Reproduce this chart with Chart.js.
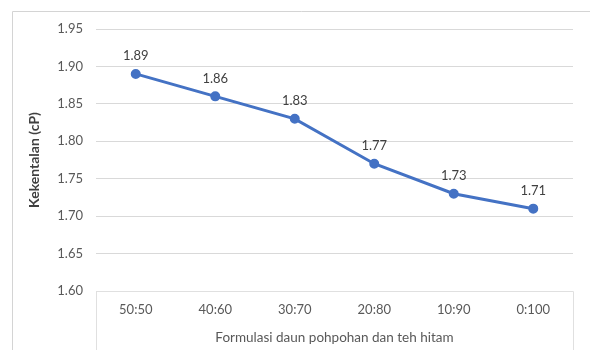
<!DOCTYPE html>
<html>
<head>
<meta charset="utf-8">
<script src="https://cdn.jsdelivr.net/npm/chart.js@4.4.1/dist/chart.umd.min.js"></script>
<style>
  html, body { margin: 0; padding: 0; background: #ffffff; }
  #wrap { width: 590px; height: 350px; position: relative; }
</style>
</head>
<body>
<div id="wrap"><canvas id="c" width="590" height="350"></canvas></div>
<script>
// Viscosity of pohpohan leaf / black tea blends
const categories = ['50:50', '40:60', '30:70', '20:80', '10:90', '0:100'];
const viscosity = [1.89, 1.86, 1.83, 1.77, 1.73, 1.71];
const yMin = 1.60;
const yMax = 1.95;
const yStep = 0.05;
const xTitle = 'Formulasi daun pohpohan dan teh hitam';
const yTitle = 'Kekentalan (cP)';

const textColor = '#595959';
const gridColor = '#d9d9d9';
const lineColor = '#4472c4';
const fontFamily = "Lato, 'Open Sans', 'Liberation Sans', sans-serif";
const fontSize = 13;

// Outer frame of the chart and the outlined category-axis band
const chartFrame = {
  id: 'chartFrame',
  afterDraw(chart) {
    const ctx = chart.ctx;
    const a = chart.chartArea;
    const l = Math.round(a.left) + 0.5;
    const r = Math.round(a.right) + 0.5;
    const b = Math.round(a.bottom) + 0.5;
    ctx.save();
    ctx.lineWidth = 1;
    ctx.strokeStyle = '#d4d4d4';
    ctx.beginPath();
    ctx.moveTo(12.5, chart.height);
    ctx.lineTo(12.5, 11.5);
    ctx.lineTo(chart.width, 11.5);
    ctx.stroke();
    ctx.strokeStyle = '#e0e0e0';
    ctx.beginPath();
    ctx.moveTo(l, chart.height);
    ctx.lineTo(l, b);
    ctx.lineTo(r, b);
    ctx.lineTo(r, chart.height);
    ctx.stroke();
    ctx.restore();
  }
};

// Value labels above each point
const valueLabels = {
  id: 'valueLabels',
  afterDatasetsDraw(chart) {
    const ctx = chart.ctx;
    const meta = chart.getDatasetMeta(0);
    ctx.save();
    ctx.font = fontSize + 'px ' + fontFamily;
    ctx.fillStyle = '#404040';
    ctx.textAlign = 'center';
    ctx.textBaseline = 'middle';
    meta.data.forEach((pt, i) => {
      ctx.fillText(viscosity[i].toFixed(2), pt.x, pt.y - 18);
    });
    ctx.restore();
  }
};

new Chart(document.getElementById('c'), {
  type: 'line',
  data: {
    labels: categories,
    datasets: [{
      data: viscosity,
      borderColor: lineColor,
      backgroundColor: lineColor,
      borderWidth: 3,
      pointRadius: 3.5,
      pointHoverRadius: 3.5,
      pointBackgroundColor: lineColor,
      pointBorderColor: lineColor,
      tension: 0
    }]
  },
  options: {
    responsive: false,
    animation: false,
    devicePixelRatio: 1,
    layout: { padding: { top: 29, right: 17, bottom: 0, left: 26 } },
    plugins: {
      legend: { display: false },
      tooltip: { enabled: false }
    },
    scales: {
      x: {
        offset: true,
        grid: { display: false },
        border: { display: false },
        ticks: { color: textColor, font: { family: fontFamily, size: fontSize }, padding: 3 },
        title: {
          display: true,
          text: xTitle,
          color: textColor,
          font: { family: fontFamily, size: 13.5 },
          padding: { top: 10, bottom: 4 }
        },
        afterFit(scale) { scale.height = 59; }
      },
      y: {
        min: yMin,
        max: yMax,
        grid: { color: gridColor, drawTicks: false },
        border: { display: false },
        ticks: {
          stepSize: yStep,
          color: textColor,
          font: { family: fontFamily, size: fontSize },
          padding: 13,
          callback: (v) => Number(v).toFixed(2)
        },
        title: {
          display: true,
          text: yTitle,
          color: '#404040',
          font: { family: fontFamily, size: 14, weight: 'bold' },
          padding: { top: 0, bottom: 0 }
        },
        afterFit(scale) { scale.width = 70; }
      }
    }
  },
  plugins: [chartFrame, valueLabels]
});
</script>
</body>
</html>
